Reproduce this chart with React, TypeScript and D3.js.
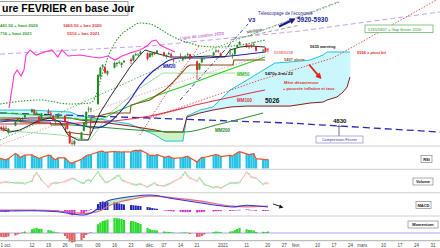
import React from "react";
import * as d3 from "d3";

type P = [number, number];

// ---------- candles (day offset from 2020-10-01) ----------
const candleDays = [-3,-2,-1,0,1, 4,5,6,7,8, 11,12,13,14,15, 18,19,20,21,22, 25,26,27,28,29, 32,33,34,35,36, 39,40,41,42,43, 46,47,48,49,50, 53,54,55,56,57, 60,61,62,63,64, 67,68,69,70,71, 74,75,76,77,78, 81,82,83,84, 88,89,90,91, 95,96,97,98,99, 102,103,104,105,106, 109,110,111];
const opens = [4670,4750,4745,4740,4690, 4770,4820,4820,4840,4860, 4920,4945,4910,4870,4830, 4930,4905,4880,4810,4860, 4880,4810,4700,4570,4560, 4620,4710,4780,4950,4950, 5010,5320,5430,5420,5350, 5420,5460,5480,5450,5480, 5510,5500,5560,5560,5570, 5580,5540,5560,5590,5580, 5590,5540,5570,5570,5510, 5540,5510,5540,5560,5570, 5490,5400,5480,5520, 5560,5600,5610,5580, 5580,5560,5570,5650,5680, 5680,5660,5670,5680,5660, 5610,5640,5630];
const highs = [4760,4765,4770,4770,4740, 4815,4850,4835,4865,4890, 4960,4955,4930,4875,4910, 4955,4930,4890,4840,4905, 4890,4820,4710,4610,4610, 4700,4810,4930,4980,4970, 5350,5430,5460,5440,5390, 5490,5480,5500,5480,5510, 5530,5565,5590,5580,5610, 5590,5590,5590,5600,5620, 5600,5570,5600,5590,5530, 5580,5540,5560,5590,5575, 5500,5470,5535,5530, 5600,5630,5620,5590, 5640,5580,5640,5680,5720, 5690,5680,5690,5710,5665, 5630,5650,5640];
const lows = [4665,4710,4700,4720,4670, 4760,4805,4800,4830,4845, 4910,4895,4890,4790,4825, 4900,4870,4820,4780,4850, 4800,4725,4560,4545,4515, 4610,4705,4760,4920,4920, 5000,5300,5400,5350,5330, 5410,5430,5460,5420,5470, 5460,5490,5550,5550,5560, 5500,5530,5540,5560,5570, 5540,5520,5560,5520,5480, 5520,5490,5520,5550,5510, 5280,5390,5470,5510, 5550,5590,5590,5550, 5560,5520,5560,5640,5670, 5640,5630,5640,5660,5600, 5590,5590,5590];
const closes = [4753,4742,4714,4734,4734, 4811,4842,4822,4846,4886, 4950,4905,4911,4807,4905, 4909,4890,4833,4831,4889, 4816,4731,4571,4569,4594, 4691,4805,4922,4957,4960, 5336,5418,5445,5362,5380, 5472,5475,5484,5474,5495, 5492,5558,5571,5566,5598, 5518,5581,5583,5574,5609, 5556,5560,5583,5546,5507, 5528,5530,5549,5569,5528, 5393,5467,5527,5522, 5589,5611,5599,5551, 5588,5564,5630,5669,5707, 5662,5650,5663,5681,5611, 5618,5598,5628];

// ---------- indicators (one value per candle) ----------
const rsi = [48,45,42,40,45, 68,62,50,55,60, 62,55,52,45,50, 60,58,45,40,48, 48,38,28,26,30, 42,50,58,62,63, 74,77,78,72,73, 76,75,75,73,75, 74,79,81,80,82, 66,58,60,57,62, 52,53,56,50,46, 49,50,53,56,49, 30,42,51,50, 60,63,61,54, 59,56,64,70,75, 66,63,65,67,45, 42,40,42];
const volume = [35,37,38,40,38, 35,36,35,35,32, 45,72,85,70,50, 15,28,35,35,35, 42,48,52,58,55, 36,35,45,50,45, 90,72,55,40,38, 60,70,72,52,45, 32,28,25,28,30, 15,22,28,35,25, 20,25,30,35,42, 60,75,90,70,60, 45,60,45,28, 12,15,14,10, 35,35,35,35,38, 88,80,65,62,60, 28,35,33];
const macdHist = [-15,-18,-20,-20,-18, -12,-8,-5,-5,-3, 0,2,-2,-5,-3, -2,-4,-8,-10,-8, -20,-30,-45,-52,-50, -40,-30,-15,-5,5, 60,80,85,80,78, 75,72,65,60,55, 50,48,45,42,40, 30,25,20,15,12, -5,-8,-10,-12,-15, -18,-20,-22,-22,-20, -25,-22,-20,-18, -15,-12,-12,-12, -10,-8,-6,-4,2, 5,3,-2,-5,-8, -10,-10,-8];
const momentum = [-150,-160,-170,-160,-140, -100,-60,-20,30,60, 150,180,200,160,170, 120,100,60,30,20, -120,-220,-340,-380,-360, -300,-200,-80,-20,30, 350,420,480,500,540, 600,590,580,560,520, 480,470,440,400,360, 200,150,120,110,100, 60,50,40,30,20, 10,20,30,10,-40, -160,-150,-120,-60, 40,60,50,40, 60,70,110,160,200, 150,120,110,100,40, 50,40,60];

const macdDays = [-3,11,22,29,33,36,40,43,48,54,61,71,82,91,96,102,111];
const macdValues = [-10,-8,-18,-42,-50,-30,35,90,118,138,150,112,72,42,30,48,30];
const signalValues = [0,-2,-10,-25,-35,-28,-8,35,80,110,138,122,92,55,38,32,38];

// ---------- ichimoku-like cloud ----------
const cloudDays = [-2.5,10.2,27.1,31.4,39.8,52.6,63.2,67.4,75,76.7,82.2,87.7,95,102.2,107.7,114,120.4,128.9,134.4,136.1,140.3,142.9,144.6,145.8];
const spanA = [4943,4943,4921,4876,4842,4786,4663,4595,4595,4876,4943,4977,5168,5281,5370,5471,5483,5505,5561,5595,5595,5595,5595,5595];
const spanB = [4831,4854,4854,4831,4809,4764,4719,4696,4696,4865,4910,4943,4977,4988,4988,4988,4988,5022,5033,5056,5090,5146,5202,5314];

// ---------- lines (day, price) ----------
const pinkLine: P[] = [[1.3,4966],[3.4,5337],[4.7,5393],[6.4,5325],[7.6,5393],[8.5,5561],[10.2,5618],[12.7,5561],[16.5,5595],[19.5,5618],[22,5539],[23.7,5618],[26.3,5550],[31.4,5561],[36.5,5539],[39.8,5528],[43.2,5550],[46.2,5505],[49.2,5550],[52.6,5584],[56.8,5618],[59.8,5663],[61.9,5719],[63.6,5730],[65.3,5674],[67.8,5640],[71.6,5595]];
const cotation2020: P[] = [[-2.5,5572],[61,5663],[124.6,5831],[184,6045]];
const medianeLine: P[] = [[95,5730],[124.6,5898]];
const telescopageLine: P[] = [[105.6,5809],[141.6,6168]];
const v3Line: P[] = [[73.8,5056],[102.6,5910]];
const compressionLine: P[] = [[-2.5,4910],[61,4854],[120.4,4797],[184,4696]];
const redDotLong: P[] = [[61,4854],[107.7,5281],[138.6,5528],[184,6202]];
const redDotSteep: P[] = [[56.8,4663],[71.6,5281],[82.2,5674]];
const salmonDot: P[] = [[-2.5,4550],[35.6,4921],[65.3,5191],[109.8,5561]];
const bbUpper: P[] = [[-2.5,5011],[14.4,5056],[27.1,5011],[35.6,5022],[37.7,5078],[39.8,5258],[44.1,5595],[48.3,5775],[52.6,5865],[56.8,5921],[61,5910],[65.3,5854],[69.5,5786],[73.8,5730],[78,5696],[82.2,5663],[90.7,5651],[99.2,5674],[109.8,5730]];
const bbLower: P[] = [[-2.5,4719],[22.9,4663],[35.6,4606],[44.1,4910],[56.8,5191],[66.6,5359],[97.1,5359]];
const greenDotLong: P[] = [[-2.5,4606],[61,5370],[103.4,5786],[141.6,6157]];
const mm20: P[] = [[-2.5,4809],[10.2,4831],[22.9,4820],[31.4,4775],[37.7,4741],[44.1,4809],[48.3,4921],[52.6,5056],[56.8,5224],[61,5348],[65.3,5438],[69.5,5505],[73.8,5528],[82.2,5528],[90.7,5539],[99.2,5561],[109.8,5595]];
const mm50: P[] = [[-2.5,4910],[18.7,4876],[37.7,4831],[48.3,4943],[61,5078],[78,5236],[94.1,5393],[109.8,5539]];
const mm100: P[] = [[-2.5,4786],[31.4,4797],[61,4876],[82.2,5011],[109.8,5168]];
const mm200: P[] = [[-2.5,4831],[39.8,4752],[61,4708],[75,4696],[90.7,4786],[109,4910]];
const tenkan: P[] = [[-2.5,4741],[1.7,4696],[5.9,4719],[10.2,4775],[14.4,4831],[18.7,4854],[22.9,4809],[26.3,4663],[30.5,4606],[34.8,4606],[37.7,4775],[39.8,4910],[44.1,5090],[48.3,5258],[52.6,5427],[56.8,5561],[58.9,5618],[63.2,5584],[69.5,5539],[78,5539],[86.5,5550],[92.8,5539],[95,5618],[99.2,5651],[103.4,5663],[109.8,5651]];
const kijun: P[] = [[-2.5,4854],[5.9,4854],[6.4,4809],[18.7,4809],[19.1,4775],[25,4775],[25.4,4696],[35.6,4663],[36,4854],[44.1,4910],[52.6,4910],[53,4999],[61,5056],[64,5112],[67.4,5168],[72.5,5303],[76.7,5427],[78,5449],[96.2,5449],[96.6,5505],[109.8,5505]];

// ---------- axis ----------
const tickDays = [0,11,18,25,31,39,46,53,61,67,74,81,92,102,111,118,123,132,139,146,151,160,167,174,181];
const tickLabels = ["1 oct.","12","19","26","nov.","09","16","23","déc.","07","14","21","2021","11","20","27","févr.","10","17","24","mars","10","17","24","31"];

const BASE = Date.UTC(2020, 9, 1);
const toDate = (d: number) => new Date(BASE + d * 86400000);
const FONT = "'Liberation Sans', Arial, sans-serif";

export default function App() {
  const x = d3.scaleUtc().domain([toDate(0), toDate(181)]).range([6, 433]);
  const X = (d: number) => x(toDate(d)) as number;
  const y = d3.scaleLinear().domain([4400, 6100]).range([158.4, 7.07]);
  const yRsi = d3.scaleLinear().domain([0, 100]).range([169, 146]);
  const yVol = d3.scaleLinear().domain([0, 100]).range([190, 170]);
  const yMacd = d3.scaleLinear().domain([-60, 170]).range([216, 193]);
  const yMom = d3.scaleLinear().domain([-400, 600]).range([243, 218]);

  const straight = d3.line<P>().x((p) => X(p[0])).y((p) => y(p[1]));
  const smooth = d3.line<P>().x((p) => X(p[0])).y((p) => y(p[1])).curve(d3.curveMonotoneX);

  const cloudSegs = cloudDays.slice(0, -1).map((d, i) => {
    const pts: [number, number, number][] = [
      [d, spanA[i], spanB[i]],
      [cloudDays[i + 1], spanA[i + 1], spanB[i + 1]],
    ];
    const area = d3.area<[number, number, number]>().x((p) => X(p[0])).y0((p) => y(p[2])).y1((p) => y(p[1]));
    const up = spanA[i] + spanA[i + 1] >= spanB[i] + spanB[i + 1];
    return { path: area(pts) || "", fill: up ? "#c9f7fb" : "#cdf3c4" };
  });
  const spanALine = straight(cloudDays.map((d, i) => [d, spanA[i]] as P)) || "";
  const spanBLine = straight(cloudDays.map((d, i) => [d, spanB[i]] as P)) || "";

  const macdLineGen = d3.line<number>().x((_, i) => X(macdDays[i])).y((v) => yMacd(v)).curve(d3.curveMonotoneX);
  const macdSegs = macdDays.slice(0, -1).map((d, i) => {
    const pts: [number, number, number][] = [
      [d, macdValues[i], signalValues[i]],
      [macdDays[i + 1], macdValues[i + 1], signalValues[i + 1]],
    ];
    const area = d3.area<[number, number, number]>().x((p) => X(p[0])).y0((p) => yMacd(p[2])).y1((p) => yMacd(p[1]));
    const up = macdValues[i] + macdValues[i + 1] >= signalValues[i] + signalValues[i + 1];
    return { path: area(pts) || "", fill: up ? "#bdf2b4" : "#f8cfe0" };
  });

  const rsiLine = d3.line<number>().x((_, i) => X(candleDays[i])).y((v) => yRsi(v))(rsi) || "";

  const t = (size: number, color: string, bold = false) => ({
    fontFamily: FONT,
    fontSize: size,
    fill: color,
    fontWeight: bold ? 700 : 400,
  });

  return (
    <svg width={440} height={248} style={{ position: "fixed", left: 0, top: 0, display: "block", background: "#fff" }}>
      <style>{`body{margin:0}`}</style>
      <defs>
        <clipPath id="mainClip">
          <rect x={0} y={0} width={440} height={146} />
        </clipPath>
      </defs>
      <rect x={0} y={0} width={440} height={248} fill="#fff" />

      <g clipPath="url(#mainClip)">
        {cloudSegs.map((s, i) => (
          <path key={"c" + i} d={s.path} fill={s.fill} stroke={s.fill} strokeWidth={0.4} />
        ))}
        <path d={spanALine} fill="none" stroke="#22c6d6" strokeWidth={1} />
        <path d={spanBLine} fill="none" stroke="#8e1b1b" strokeWidth={1} />

        <path d={straight(cotation2020) || ""} fill="none" stroke="#c7a2ee" strokeWidth={1} strokeDasharray="5,3" />
        <path d={straight(greenDotLong) || ""} fill="none" stroke="#3aa83a" strokeWidth={0.9} strokeDasharray="1.4,1.8" />
        <path d={straight(salmonDot) || ""} fill="none" stroke="#f59a9a" strokeWidth={0.9} strokeDasharray="1.4,1.6" />
        <path d={straight(redDotLong) || ""} fill="none" stroke="#f03a3a" strokeWidth={0.9} strokeDasharray="1.4,1.6" />
        <path d={straight(redDotSteep) || ""} fill="none" stroke="#f03a3a" strokeWidth={0.9} strokeDasharray="1.4,1.6" />
        <path d={straight(medianeLine) || ""} fill="none" stroke="#8a8a8a" strokeWidth={0.8} strokeDasharray="4,2.5" />
        <path d={straight(telescopageLine) || ""} fill="none" stroke="#9a9a9a" strokeWidth={0.8} strokeDasharray="4,2.5" />
        <path d={straight(v3Line) || ""} fill="none" stroke="#2a2ac4" strokeWidth={0.9} strokeDasharray="4,2,1,2" />
        <path d={straight(compressionLine) || ""} fill="none" stroke="#2a2ab2" strokeWidth={1.3} strokeDasharray="7,4" />

        <path d={smooth(bbUpper) || ""} fill="none" stroke="#2a9a2a" strokeWidth={1.1} strokeDasharray="1.5,1.5" />
        <path d={straight(bbLower) || ""} fill="none" stroke="#8ede8e" strokeWidth={0.9} />

        <path d={smooth(mm200) || ""} fill="none" stroke="#2c8c2c" strokeWidth={1} />
        <path d={smooth(mm100) || ""} fill="none" stroke="#e8304e" strokeWidth={1.1} />
        <path d={smooth(mm50) || ""} fill="none" stroke="#22d022" strokeWidth={1.1} />
        <path d={smooth(mm20) || ""} fill="none" stroke="#2222b0" strokeWidth={1.1} />
        <path d={straight(kijun) || ""} fill="none" stroke="#8b4a1a" strokeWidth={1.1} />
        <path d={straight(tenkan) || ""} fill="none" stroke="#111" strokeWidth={0.9} />
        <path d={straight(pinkLine) || ""} fill="none" stroke="#ff33cc" strokeWidth={1.1} />

        {candleDays.map((d, i) => {
          const cx = X(d);
          const up = closes[i] >= opens[i];
          const col = up ? "#1e8e1e" : "#e5262a";
          const top = y(Math.max(opens[i], closes[i]));
          const bot = y(Math.min(opens[i], closes[i]));
          return (
            <g key={"k" + i}>
              <line x1={cx} x2={cx} y1={y(highs[i])} y2={y(lows[i])} stroke={up ? "#1e6e1e" : "#a02020"} strokeWidth={0.7} />
              <rect x={cx - 1} y={top} width={2} height={Math.max(0.7, bot - top)} fill={col} />
            </g>
          );
        })}
      </g>

      {/* annotations */}
      <rect x={-1} y={1.5} width={129} height={14} fill="#fff" stroke="#888" strokeWidth={0.8} />
      <text x={2} y={12.3} style={t(10.5, "#000", true)}>ure FEVRIER en base Jour</text>

      <text x={0} y={27} style={t(4.3, "#2e9e2e", true)}>461.50 + haut 2020</text>
      <text x={0} y={34.5} style={t(4.3, "#2e9e2e", true)}>716 + haut 2021</text>
      <text x={63} y={27} style={t(4.3, "#e8383d", true)}>3469.50 + bas 2020</text>
      <text x={67} y={34.5} style={t(4.3, "#e8383d", true)}>5510 + bas 2021</text>

      <text x={248} y={22} style={t(6, "#1a1a8c", true)}>V3</text>
      <text x={258} y={15} style={t(4.5, "#2a2aa0")}>Télescopage de l'économie</text>
      <line x1={279} y1={26.4} x2={290.5} y2={21.1} stroke="#1a1a8c" strokeWidth={2.2} />
      <polygon points="295,19 291.6,23.4 289.4,18.8" fill="#1a1a8c" stroke="#1a1a8c" strokeWidth={0.8} />
      <text x={297} y={22} style={t(6.5, "#1a1a8c", true)}>5920-5930</text>

      <text x={0} y={0} transform="translate(247,33.5) rotate(-11)" style={t(4, "#222")}>Médiane</text>
      <text x={0} y={0} transform="translate(180,39.5) rotate(-6)" style={t(4.4, "#b030c8")}>Ligne de cotation 2020</text>

      <text x={163} y={67.5} style={t(4.5, "#2222aa", true)}>MM20</text>
      <text x={237} y={76} style={t(4.5, "#22c022", true)}>MM50</text>
      <text x={237} y={102} style={t(4.5, "#e0304a", true)}>MM100</text>
      <text x={215} y={131.5} style={t(4.5, "#2a8a2a", true)}>MM200</text>

      <text x={265} y={102.5} style={t(6.5, "#111", true)}>5026</text>
      <text x={333} y={123} style={t(6, "#111", true)}>4830</text>
      <line x1={339} y1={124.5} x2={339} y2={136} stroke="#4a4aa8" strokeWidth={0.8} />
      <line x1={337} y1={126.5} x2={341} y2={126.5} stroke="#4a4aa8" strokeWidth={0.8} />
      <rect x={316} y={136} width={47} height={7} fill="#fff" stroke="#8a8ad0" strokeWidth={0.7} />
      <text x={339.5} y={141.2} textAnchor="middle" style={t(3.8, "#3a3a9a")}>Compression Février</text>

      <text x={265} y={75} style={t(4.3, "#111", true)}>5470= 5 au 22</text>
      <text x={284} y={84} style={t(4.1, "#e03030", true)}>Mère désastreuse</text>
      <text x={283} y={90} style={t(4.1, "#e03030", true)}>+ poussée inflation et taux</text>
      <line x1={309} y1={64.5} x2={317.6} y2={74.6} stroke="#e02020" strokeWidth={1.8} />
      <polygon points="321,78.5 315.8,76.5 319.5,73.1" fill="#e02020" stroke="#e02020" strokeWidth={0.8} />

      <text x={310} y={48} style={t(4, "#222", true)}>5635 warning</text>
      <text x={357} y={54} style={t(4, "#e03030", true)}>5566 = pivot bit</text>
      <text x={274} y={54} style={t(4, "#e03030")}>5538/5558</text>
      <text x={284} y={60.5} style={t(4, "#a0522d", true)}>5497 alerte</text>
      <rect x={365} y={25} width={68} height={7.5} fill="#fff" stroke="#6ab86a" strokeWidth={0.8} />
      <text x={368} y={30.5} style={t(4, "#2a9a2a")}>5765/5837 = Gap février 2020</text>

      {[146, 169.3, 192.7, 216].map((sy) => (
        <line key={"s" + sy} x1={0} x2={440} y1={sy} y2={sy} stroke="#c4c4c4" strokeWidth={0.8} />
      ))}

      {/* RSI */}
      {candleDays.map((d, i) => (
        <rect key={"r" + i} x={X(d) - 1.1} y={yRsi(rsi[i])} width={2.2} height={yRsi(0) - 0.6 - yRsi(rsi[i])} fill="#22c2e6" />
      ))}
      <path d={rsiLine} fill="none" stroke="#f0502a" strokeWidth={1.2} />

      {/* Volume */}
      {candleDays.slice(1).map((d, j) => {
        const i = j + 1;
        const up = closes[i] >= opens[i];
        return (
          <line key={"v" + i} x1={X(candleDays[i - 1])} y1={yVol(volume[i - 1])} x2={X(d)} y2={yVol(volume[i])} stroke={up ? "#86d486" : "#f4a4a4"} strokeWidth={0.9} />
        );
      })}
      {candleDays.map((d, i) => (
        <circle key={"vc" + i} cx={X(d)} cy={yVol(volume[i])} r={0.85} fill="#fff" stroke={closes[i] >= opens[i] ? "#7ccc7c" : "#f29a9a"} strokeWidth={0.5} />
      ))}

      {/* MACD */}
      {macdSegs.map((s, i) => (
        <path key={"m" + i} d={s.path} fill={s.fill} />
      ))}
      {candleDays.map((d, i) => {
        const v = macdHist[i];
        const y0 = yMacd(0);
        const y1 = yMacd(v);
        return <rect key={"h" + i} x={X(d) - 1} y={Math.min(y0, y1)} width={2} height={Math.max(0.5, Math.abs(y1 - y0))} fill={v >= 0 ? "#2424b4" : "#d22ed2"} />;
      })}
      <path d={macdLineGen(signalValues) || ""} fill="none" stroke="#e86a7a" strokeWidth={1.2} />
      <path d={macdLineGen(macdValues) || ""} fill="none" stroke="#3434e0" strokeWidth={1.1} />
      <line x1={273} y1={204} x2={280.5} y2={206.4} stroke="#111" strokeWidth={0.9} />
      <polygon points="283.5,207.4 279.8,204.4 279,208.4" fill="#111" />

      {/* Momentum */}
      <line x1={0} x2={440} y1={yMom(0)} y2={yMom(0)} stroke="#aaa0f0" strokeWidth={1} />
      {candleDays.map((d, i) => {
        const v = momentum[i];
        const y0 = yMom(0);
        const y1 = yMom(v);
        return <rect key={"mo" + i} x={X(d) - 1.1} y={Math.min(y0, y1)} width={2.2} height={Math.max(0.4, Math.abs(y1 - y0))} fill={v >= 0 ? "#2ada2a" : "#e06262"} />;
      })}

      {/* panel labels */}
      <rect x={421} y={155.5} width={11} height={7} fill="#fff" stroke="#888" strokeWidth={0.7} />
      <text x={426.5} y={160.6} textAnchor="middle" style={t(4, "#111", true)}>RSI</text>
      <rect x={413} y={178} width={20} height={7} fill="#fff" stroke="#888" strokeWidth={0.7} />
      <text x={423} y={183.1} textAnchor="middle" style={t(4, "#111", true)}>Volume</text>
      <rect x={416} y={201.5} width={15} height={7} fill="#fff" stroke="#888" strokeWidth={0.7} />
      <text x={423.5} y={206.6} textAnchor="middle" style={t(4, "#111", true)}>MACD</text>
      <rect x={408} y={221} width={30} height={7} fill="#fff" stroke="#888" strokeWidth={0.7} />
      <text x={423} y={226.1} textAnchor="middle" style={t(4, "#111", true)}>Momentum</text>

      {/* x axis */}
      <line x1={0} x2={440} y1={240.7} y2={240.7} stroke="#999" strokeWidth={0.8} />
      {tickDays.map((d, i) => (
        <text key={"t" + i} x={X(d)} y={246.6} textAnchor="middle" style={t(4.5, "#444")}>
          {tickLabels[i]}
        </text>
      ))}
    </svg>
  );
}
